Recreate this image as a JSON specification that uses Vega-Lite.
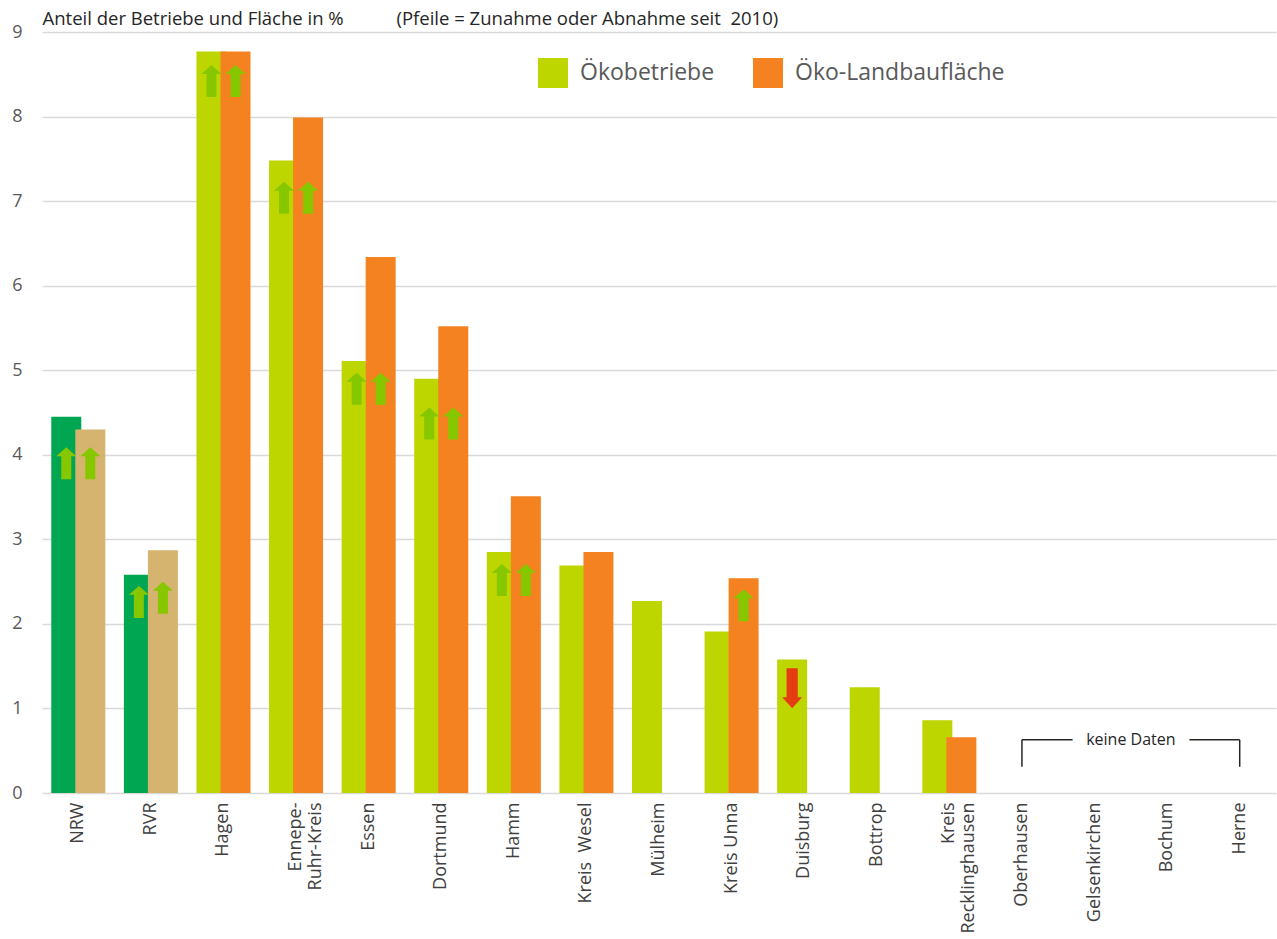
{
  "$schema": "https://vega.github.io/schema/vega-lite/v6.json",
  "autosize": "none",
  "width": 1234,
  "height": 761,
  "padding": {"left": 42, "top": 32, "right": 1, "bottom": 146},
  "background": "white",
  "config": {
    "font": "Open Sans",
    "view": {"stroke": null},
    "axisX": {
      "labelFont": "Open Sans",
      "labelFontSize": 18,
      "labelColor": "#404040",
      "labelAngle": -90,
      "labelAlign": "right",
      "labelBaseline": "middle",
      "labelPadding": 9,
      "labelLineHeight": 20,
      "labelLimit": 300,
      "ticks": false,
      "domain": false,
      "grid": false
    },
    "axisY": {
      "labelFont": "Open Sans",
      "labelFontSize": 18,
      "labelColor": "#595959",
      "labelPadding": 20,
      "ticks": false,
      "domain": false,
      "grid": true,
      "gridColor": "#D9D9D9",
      "gridWidth": 1.5,
      "titleFont": "Open Sans",
      "titleFontSize": 18.5,
      "titleFontWeight": "normal",
      "titleColor": "#262626"
    }
  },
  "datasets": {
    "anteile": [
      {"Gebiet": "NRW", "Ebene": "Land/Region", "Reihe": "Ökobetriebe", "Anteil": 4.45},
      {"Gebiet": "RVR", "Ebene": "Land/Region", "Reihe": "Ökobetriebe", "Anteil": 2.58},
      {"Gebiet": "Hagen", "Ebene": "Kreis/Stadt", "Reihe": "Ökobetriebe", "Anteil": 8.77},
      {"Gebiet": "Ennepe-Ruhr-Kreis", "Ebene": "Kreis/Stadt", "Reihe": "Ökobetriebe", "Anteil": 7.48},
      {"Gebiet": "Essen", "Ebene": "Kreis/Stadt", "Reihe": "Ökobetriebe", "Anteil": 5.11},
      {"Gebiet": "Dortmund", "Ebene": "Kreis/Stadt", "Reihe": "Ökobetriebe", "Anteil": 4.9},
      {"Gebiet": "Hamm", "Ebene": "Kreis/Stadt", "Reihe": "Ökobetriebe", "Anteil": 2.85},
      {"Gebiet": "Kreis  Wesel", "Ebene": "Kreis/Stadt", "Reihe": "Ökobetriebe", "Anteil": 2.69},
      {"Gebiet": "Mülheim", "Ebene": "Kreis/Stadt", "Reihe": "Ökobetriebe", "Anteil": 2.27},
      {"Gebiet": "Kreis Unna", "Ebene": "Kreis/Stadt", "Reihe": "Ökobetriebe", "Anteil": 1.91},
      {"Gebiet": "Duisburg", "Ebene": "Kreis/Stadt", "Reihe": "Ökobetriebe", "Anteil": 1.58},
      {"Gebiet": "Bottrop", "Ebene": "Kreis/Stadt", "Reihe": "Ökobetriebe", "Anteil": 1.25},
      {"Gebiet": "Kreis Recklinghausen", "Ebene": "Kreis/Stadt", "Reihe": "Ökobetriebe", "Anteil": 0.86},
      {"Gebiet": "NRW", "Ebene": "Land/Region", "Reihe": "Öko-Landbaufläche", "Anteil": 4.3},
      {"Gebiet": "RVR", "Ebene": "Land/Region", "Reihe": "Öko-Landbaufläche", "Anteil": 2.87},
      {"Gebiet": "Hagen", "Ebene": "Kreis/Stadt", "Reihe": "Öko-Landbaufläche", "Anteil": 8.77},
      {"Gebiet": "Ennepe-Ruhr-Kreis", "Ebene": "Kreis/Stadt", "Reihe": "Öko-Landbaufläche", "Anteil": 7.99},
      {"Gebiet": "Essen", "Ebene": "Kreis/Stadt", "Reihe": "Öko-Landbaufläche", "Anteil": 6.34},
      {"Gebiet": "Dortmund", "Ebene": "Kreis/Stadt", "Reihe": "Öko-Landbaufläche", "Anteil": 5.52},
      {"Gebiet": "Hamm", "Ebene": "Kreis/Stadt", "Reihe": "Öko-Landbaufläche", "Anteil": 3.51},
      {"Gebiet": "Kreis  Wesel", "Ebene": "Kreis/Stadt", "Reihe": "Öko-Landbaufläche", "Anteil": 2.85},
      {"Gebiet": "Kreis Unna", "Ebene": "Kreis/Stadt", "Reihe": "Öko-Landbaufläche", "Anteil": 2.54},
      {"Gebiet": "Kreis Recklinghausen", "Ebene": "Kreis/Stadt", "Reihe": "Öko-Landbaufläche", "Anteil": 0.66}
    ],
    "pfeile": [
      {"Gebiet": "NRW", "Reihe": "Ökobetriebe", "Richtung": "Zunahme", "Lage": 3.9},
      {"Gebiet": "NRW", "Reihe": "Öko-Landbaufläche", "Richtung": "Zunahme", "Lage": 3.9},
      {"Gebiet": "RVR", "Reihe": "Ökobetriebe", "Richtung": "Zunahme", "Lage": 2.26},
      {"Gebiet": "RVR", "Reihe": "Öko-Landbaufläche", "Richtung": "Zunahme", "Lage": 2.31},
      {"Gebiet": "Hagen", "Reihe": "Ökobetriebe", "Richtung": "Zunahme", "Lage": 8.42},
      {"Gebiet": "Hagen", "Reihe": "Öko-Landbaufläche", "Richtung": "Zunahme", "Lage": 8.42},
      {"Gebiet": "Ennepe-Ruhr-Kreis", "Reihe": "Ökobetriebe", "Richtung": "Zunahme", "Lage": 7.04},
      {"Gebiet": "Ennepe-Ruhr-Kreis", "Reihe": "Öko-Landbaufläche", "Richtung": "Zunahme", "Lage": 7.04},
      {"Gebiet": "Essen", "Reihe": "Ökobetriebe", "Richtung": "Zunahme", "Lage": 4.78},
      {"Gebiet": "Essen", "Reihe": "Öko-Landbaufläche", "Richtung": "Zunahme", "Lage": 4.78},
      {"Gebiet": "Dortmund", "Reihe": "Ökobetriebe", "Richtung": "Zunahme", "Lage": 4.37},
      {"Gebiet": "Dortmund", "Reihe": "Öko-Landbaufläche", "Richtung": "Zunahme", "Lage": 4.37},
      {"Gebiet": "Hamm", "Reihe": "Ökobetriebe", "Richtung": "Zunahme", "Lage": 2.52},
      {"Gebiet": "Hamm", "Reihe": "Öko-Landbaufläche", "Richtung": "Zunahme", "Lage": 2.52},
      {"Gebiet": "Kreis Unna", "Reihe": "Öko-Landbaufläche", "Richtung": "Zunahme", "Lage": 2.22},
      {"Gebiet": "Duisburg", "Reihe": "Ökobetriebe", "Richtung": "Abnahme", "Lage": 1.24}
    ],
    "luecke": [
      {"von": "Oberhausen", "mitte": "Gelsenkirchen", "bis": "Herne", "oben": 0.63, "unten": 0.31, "Hinweis": "keine Daten"}
    ]
  },
  "encoding": {
    "x": {
      "field": "Gebiet",
      "type": "nominal",
      "sort": null,
      "scale": {
        "domain": ["NRW", "RVR", "Hagen", "Ennepe-Ruhr-Kreis", "Essen", "Dortmund", "Hamm", "Kreis  Wesel", "Mülheim", "Kreis Unna", "Duisburg", "Bottrop", "Kreis Recklinghausen", "Oberhausen", "Gelsenkirchen", "Bochum", "Herne"],
        "paddingInner": 0,
        "paddingOuter": 0
      },
      "axis": {
        "title": null,
        "labelFontSize": 18,
        "labelExpr": "datum.value == 'Ennepe-Ruhr-Kreis' ? ['Ennepe-', 'Ruhr-Kreis'] : datum.value == 'Kreis Recklinghausen' ? ['Kreis', 'Recklinghausen'] : datum.value == 'Kreis  Wesel' ? 'Kreis\u00a0\u00a0Wesel' : datum.value"
      }
    }
  },
  "layer": [
    {
      "data": {"name": "anteile"},
      "transform": [{"filter": "datum.Ebene == 'Kreis/Stadt'"}],
      "mark": {"type": "bar", "width": 30},
      "encoding": {
        "xOffset": {"field": "Reihe", "type": "nominal", "sort": null, "scale": {"domain": ["Ökobetriebe", "Öko-Landbaufläche"], "paddingInner": 0, "paddingOuter": 0.51}},
        "y": {
          "field": "Anteil",
          "type": "quantitative",
          "scale": {"domain": [0, 9], "nice": false},
          "axis": {
            "title": "Anteil der Betriebe und Fläche in %\u00a0\u00a0\u00a0\u00a0\u00a0\u00a0\u00a0\u00a0\u00a0\u00a0\u00a0(Pfeile = Zunahme oder Abnahme seit\u00a0\u00a02010)",
            "titleAngle": 0,
            "titleAlign": "left",
            "titleBaseline": "alphabetic",
            "titleX": 0,
            "titleY": -8,
            "values": [0, 1, 2, 3, 4, 5, 6, 7, 8, 9],
            "format": "d"
          }
        },
        "color": {
          "field": "Reihe",
          "type": "nominal",
          "scale": {"domain": ["Ökobetriebe", "Öko-Landbaufläche"], "range": ["#BED600", "#F58220"]},
          "legend": {
            "title": null,
            "orient": "none",
            "direction": "horizontal",
            "legendX": 496,
            "legendY": 26,
            "symbolType": "square",
            "symbolSize": 900,
            "symbolStrokeWidth": 0,
            "labelFontSize": 23,
            "labelFont": "Open Sans",
            "labelColor": "#595959",
            "labelLimit": 400,
            "labelOffset": 12,
            "columnPadding": 38,
            "padding": 0
          }
        }
      }
    },
    {
      "data": {"name": "anteile"},
      "transform": [{"filter": "datum.Ebene == 'Land/Region'"}],
      "mark": {"type": "bar", "width": 30},
      "encoding": {
        "xOffset": {"field": "Reihe", "type": "nominal", "sort": null},
        "y": {"field": "Anteil", "type": "quantitative"},
        "color": {
          "field": "Reihe",
          "type": "nominal",
          "scale": {"domain": ["Ökobetriebe", "Öko-Landbaufläche"], "range": ["#00A651", "#D4B46E"]},
          "legend": null
        }
      }
    },
    {
      "data": {"name": "pfeile"},
      "transform": [{"filter": "datum.Richtung == 'Zunahme'"}],
      "mark": {
        "type": "point",
        "filled": true,
        "opacity": 1,
        "size": 1024,
        "color": "#86C700",
        "shape": "M0,-1L0.625,-0.44L0.3125,-0.44L0.3125,1L-0.3125,1L-0.3125,-0.44L-0.625,-0.44Z"
      },
      "encoding": {
        "xOffset": {"field": "Reihe", "type": "nominal", "sort": null},
        "y": {"field": "Lage", "type": "quantitative"}
      }
    },
    {
      "data": {"name": "pfeile"},
      "transform": [{"filter": "datum.Richtung == 'Abnahme'"}],
      "mark": {
        "type": "point",
        "filled": true,
        "opacity": 1,
        "size": 1600,
        "color": "#E53D12",
        "shape": "M0,1L0.5,0.45L0.28,0.45L0.28,-1L-0.28,-1L-0.28,0.45L-0.5,0.45Z"
      },
      "encoding": {
        "xOffset": {"field": "Reihe", "type": "nominal", "sort": null},
        "y": {"field": "Lage", "type": "quantitative"}
      }
    },
    {
      "data": {"name": "luecke"},
      "mark": {"type": "rule", "color": "#262626", "strokeWidth": 1.5},
      "encoding": {
        "x": {"field": "von", "type": "nominal"},
        "x2": {"field": "bis"},
        "y": {"field": "oben", "type": "quantitative"}
      }
    },
    {
      "data": {"name": "luecke"},
      "mark": {"type": "rule", "color": "#262626", "strokeWidth": 1.5},
      "encoding": {
        "x": {"field": "von", "type": "nominal"},
        "y": {"field": "oben", "type": "quantitative"},
        "y2": {"field": "unten"}
      }
    },
    {
      "data": {"name": "luecke"},
      "mark": {"type": "rule", "color": "#262626", "strokeWidth": 1.5},
      "encoding": {
        "x": {"field": "bis", "type": "nominal"},
        "y": {"field": "oben", "type": "quantitative"},
        "y2": {"field": "unten"}
      }
    },
    {
      "data": {"name": "luecke"},
      "mark": {"type": "text", "fontSize": 16, "font": "Open Sans", "color": "white", "stroke": "white", "strokeWidth": 30, "strokeJoin": "round", "baseline": "middle", "align": "center"},
      "encoding": {
        "x": {"field": "mitte", "type": "nominal", "bandPosition": 1},
        "y": {"field": "oben", "type": "quantitative"},
        "text": {"field": "Hinweis"}
      }
    },
    {
      "data": {"name": "luecke"},
      "mark": {"type": "text", "fontSize": 16, "font": "Open Sans", "color": "#262626", "baseline": "middle", "align": "center"},
      "encoding": {
        "x": {"field": "mitte", "type": "nominal", "bandPosition": 1},
        "y": {"field": "oben", "type": "quantitative"},
        "text": {"field": "Hinweis"}
      }
    }
  ],
  "resolve": {"scale": {"color": "independent"}}
}
